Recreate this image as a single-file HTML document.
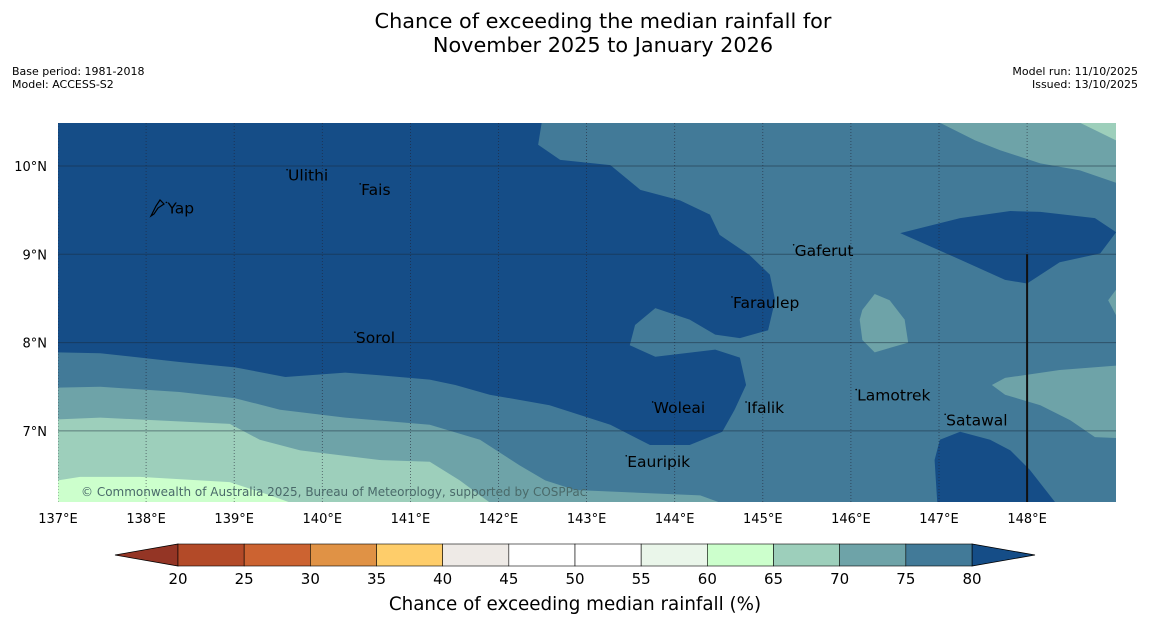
<!DOCTYPE html>
<html><head><meta charset="utf-8"><style>
body{margin:0;background:#fff;font-family:"DejaVu Sans","Liberation Sans",sans-serif;}
svg{display:block}
</style></head><body>
<svg id="c" width="1150" height="644">
<text x="603" y="28" font-size="20.8" text-anchor="middle">Chance of exceeding the median rainfall for</text>
<text x="603" y="52" font-size="20.8" text-anchor="middle">November 2025 to January 2026</text>
<text x="12" y="75" font-size="11">Base period: 1981-2018</text>
<text x="12" y="88" font-size="11">Model: ACCESS-S2</text>
<text x="1138" y="75" font-size="11" text-anchor="end">Model run: 11/10/2025</text>
<text x="1138" y="88" font-size="11" text-anchor="end">Issued: 13/10/2025</text>
<defs><clipPath id="mc"><rect x="58" y="123" width="1058" height="379"/></clipPath></defs>
<g id="map" clip-path="url(#mc)"></g>
<g id="ax"></g>
<text x="575" y="610" font-size="18.3" text-anchor="middle">Chance of exceeding median rainfall (%)</text>
</svg>
<script>
const lonTicks=[137,138,139,140,141,142,143,144,145,146,147,148];
const latTicks=[10,9,8,7];
const cbValues=[20,25,30,35,40,45,50,55,60,65,70,75,80];
const cbColors=["#b34a28","#cc6331","#e09245","#fecd6a","#eeeae6","#ffffff","#ffffff","#eaf6ea","#ccffcc","#9dcfbb","#6ea3a8","#427a98"];
const regions=[
 {name:"region-above-80-main",c:"#154d87",pts:[[137,10.49],[142.49,10.49],[142.45,10.24],[142.7,10.07],[143.27,10.01],[143.61,9.73],[144.06,9.61],[144.4,9.45],[144.51,9.22],[144.85,8.99],[145.08,8.77],[145.14,8.48],[145.06,8.14],[144.74,8.05],[144.46,8.09],[144.17,8.26],[143.78,8.39],[143.55,8.2],[143.49,7.97],[143.78,7.84],[144.46,7.92],[144.74,7.83],[144.81,7.52],[144.68,7.24],[144.54,6.99],[144.17,6.84],[143.72,6.84],[143.27,7.07],[142.58,7.29],[141.9,7.41],[141.51,7.52],[141.22,7.58],[140.65,7.63],[140.26,7.66],[139.58,7.61],[139.01,7.72],[138.38,7.78],[137.48,7.88],[137,7.89]]},
 {name:"region-70-75-southwest",c:"#6ea3a8",pts:[[137,7.49],[137.48,7.5],[138.38,7.44],[139.01,7.37],[139.52,7.24],[140.26,7.15],[141.22,7.07],[141.79,6.9],[142.24,6.61],[142.53,6.44],[142.87,6.33],[144.29,6.27],[144.51,6.19],[137,6.19]]},
 {name:"region-65-70-southwest",c:"#9dcfbb",pts:[[137,7.13],[137.48,7.15],[138.95,7.08],[139.29,6.9],[139.75,6.78],[140.65,6.67],[141.22,6.65],[141.56,6.44],[141.79,6.27],[141.9,6.19],[137,6.19]]},
 {name:"region-60-65-southwest",c:"#ccffcc",pts:[[137,6.44],[137.25,6.48],[137.93,6.48],[138.95,6.42],[139.41,6.27],[139.63,6.19],[137,6.19]]},
 {name:"region-70-75-northeast",c:"#6ea3a8",pts:[[147.01,10.49],[147.41,10.29],[147.69,10.18],[148.15,10.03],[148.6,9.95],[149.01,9.81],[149.01,10.49]]},
 {name:"region-65-70-northeast",c:"#9dcfbb",pts:[[148.6,10.49],[149.01,10.49],[149.01,10.29]]},
 {name:"region-above-80-east",c:"#154d87",pts:[[146.56,9.24],[147.24,9.41],[147.81,9.49],[148.15,9.48],[148.77,9.41],[149.01,9.25],[148.83,9.01],[148.37,8.91],[148,8.67],[147.75,8.71],[147.24,8.94]]},
 {name:"region-70-75-island",c:"#6ea3a8",pts:[[146.13,8.37],[146.27,8.55],[146.44,8.48],[146.61,8.26],[146.65,8.0],[146.27,7.89],[146.13,8.03],[146.1,8.26]]},
 {name:"region-70-75-east-edge",c:"#6ea3a8",pts:[[149.01,8.6],[148.92,8.48],[149.01,8.31]]},
 {name:"region-70-75-southeast",c:"#6ea3a8",pts:[[147.6,7.52],[147.75,7.6],[148.37,7.69],[149.01,7.74],[149.01,6.92],[148.77,6.93],[148.49,7.12],[148.15,7.29],[147.75,7.41]]},
 {name:"region-above-80-southeast",c:"#154d87",pts:[[147.01,6.9],[147.24,6.99],[147.58,6.9],[147.81,6.78],[148.03,6.56],[148.32,6.19],[146.98,6.19],[146.95,6.67]]}
];
const places=[["Yap",138.23,9.52],["Ulithi",139.6,9.89],["Fais",140.43,9.73],["Gaferut",145.35,9.04],["Faraulep",144.65,8.45],["Sorol",140.37,8.05],["Woleai",143.75,7.26],["Ifalik",144.81,7.26],["Lamotrek",146.06,7.4],["Satawal",147.07,7.12],["Eauripik",143.45,6.65]];
const X=l=>58+(l-137)*88.1, Y=a=>166+(10-a)*88.3;
const NS="http://www.w3.org/2000/svg";
function mk(t,p,at){const e=document.createElementNS(NS,t);for(const k in at)e.setAttribute(k,at[k]);p.appendChild(e);return e;}
const map=document.getElementById('map'),ax=document.getElementById('ax');
const bg=mk('rect',map,{x:58,y:123,width:1058,height:379,fill:"#427a98"});


regions.forEach(r=>{
 const p=mk('polygon',map,{points:r.pts.map(q=>X(q[0])+","+Y(q[1])).join(" "),fill:r.c});
 
 
});
lonTicks.forEach(l=>{
 const g=mk('line',map,{x1:X(l),x2:X(l),y1:123,y2:502,stroke:"#223",'stroke-width':0.8,'stroke-dasharray':"1,2",opacity:0.7});
 
 
 const t=mk('text',ax,{x:X(l),y:523,'font-size':13,'text-anchor':'middle'});t.textContent=l+"°E";
 
 
});
latTicks.forEach(a=>{
 const g=mk('line',map,{x1:58,x2:1116,y1:Y(a),y2:Y(a),stroke:"#1a2a3a",'stroke-width':1,opacity:0.5});
 
 
 const t=mk('text',ax,{x:47,y:Y(a)+5,'font-size':13,'text-anchor':'end'});t.textContent=a+"°N";
 
 
});
const vl=mk('line',map,{x1:X(148),x2:X(148),y1:Y(9),y2:502,stroke:"#111",'stroke-width':2});


const yi=mk('path',map,{d:"M151,216 L156,206 L160,200 L164,204 L158,208 L154,214 Z",fill:"none",stroke:"#000",'stroke-width':1.2});


places.forEach(p=>{
 const t=mk('text',map,{x:X(p[1])+1,y:Y(p[2])+5,'font-size':15.5,fill:"#000"});t.textContent=p[0];
 
 
 const d=mk('circle',map,{cx:X(p[1]),cy:Y(p[2])-6,r:0.8,fill:"#000"});
 
 
});
const cp=mk('text',map,{x:81,y:496,'font-size':12,fill:"#4a6a6a"});cp.textContent="© Commonwealth of Australia 2025, Bureau of Meteorology, supported by COSPPac";


const CX=v=>178+(v-20)*(794/60), cy=544, ch=22;
const lt=mk('polygon',ax,{points:`115,${cy+ch/2} ${CX(20)},${cy} ${CX(20)},${cy+ch}`,fill:"#943525",stroke:"#000",'stroke-width':0.8});


const rt=mk('polygon',ax,{points:`1035,${cy+ch/2} ${CX(80)},${cy} ${CX(80)},${cy+ch}`,fill:"#154d87",stroke:"#000",'stroke-width':0.8});


cbColors.forEach((c,i)=>{
 const r=mk('rect',ax,{x:CX(cbValues[i]),y:cy,width:CX(cbValues[i+1])-CX(cbValues[i]),height:ch,fill:c,stroke:"#000",'stroke-width':0.6});
 
 
});
cbValues.forEach(v=>{
 const t=mk('text',ax,{x:CX(v),y:584,'font-size':15,'text-anchor':'middle'});t.textContent=v;
 
 
});
</script>
</body></html>
